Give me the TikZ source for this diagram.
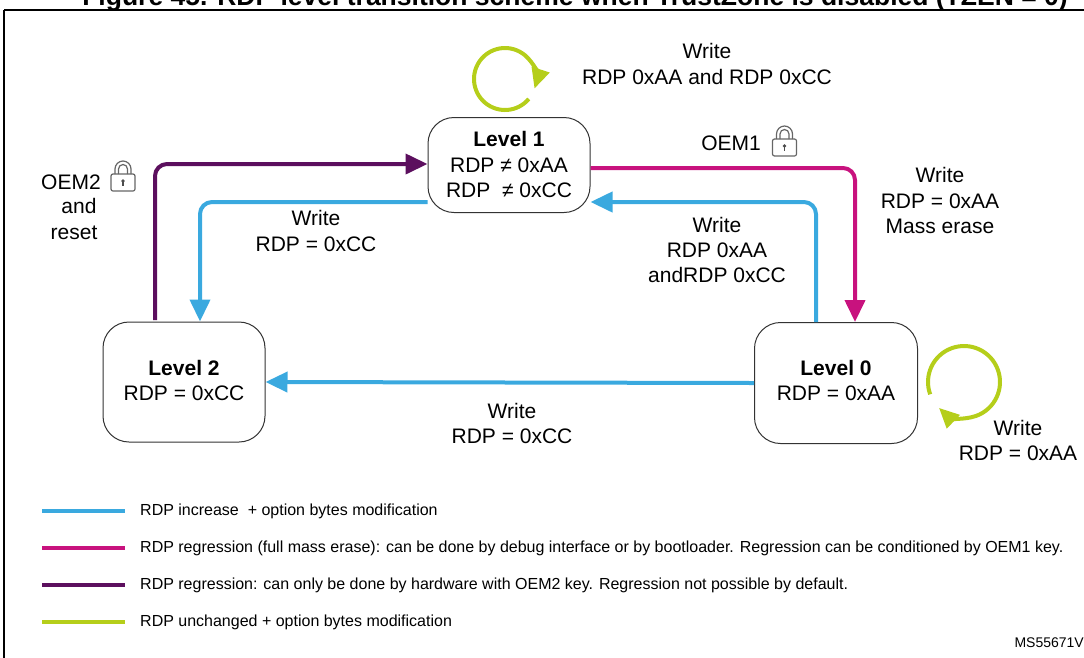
\documentclass[tikz,border=0pt]{standalone}
\usepackage{fontspec}
\setmainfont{Liberation Sans}
\usetikzlibrary{arrows.meta}
\definecolor{cblue}{HTML}{3AA9DF}
\definecolor{cmag}{HTML}{C8127E}
\definecolor{cpur}{HTML}{5C0F5E}
\definecolor{cgrn}{HTML}{B5CE1A}
\begin{document}
\begin{tikzpicture}[x=1pt,y=-1pt,
  state/.style={draw=black!80,line width=1pt,rounded corners=26pt,fill=white,inner sep=0pt},
  lbl/.style={font=\fontsize{21}{25}\selectfont,align=center,inner sep=0pt},
  leg/.style={font=\fontsize{16}{18}\selectfont,anchor=west,inner sep=0pt},
  con/.style={line width=4pt,rounded corners=12pt,-{Triangle[length=22pt,width=20pt]}},
  legline/.style={line width=4pt}]
\useasboundingbox (0,0) rectangle (1084,657);
\clip (0,0) rectangle (1084,657);
\node[font=\bfseries\fontsize{26.5}{30}\selectfont,anchor=base] (title) at (575,5) {Figure 45. RDP level transition scheme when TrustZone is disabled (TZEN = 0)};
\draw[line width=1.2pt] (4,10) -- (1090,10);
\draw[line width=1.6pt] (4,10) -- (4,670);
% states
\node[state,minimum width=162pt,minimum height=95pt] (l1) at (509,165) {};
\node[lbl,anchor=base] (l1t) at (509,146) {\textbf{Level 1}};
\node[lbl,anchor=base] (l1a) at (509,172) {RDP ≠ 0xAA};
\node[lbl,anchor=base] (l1b) at (509,197) {RDP \ ≠ 0xCC};
\node[state,minimum width=162pt,minimum height=120pt] (l2) at (184,382) {};
\node[lbl,anchor=base] (l2t) at (184,375) {\textbf{Level 2}};
\node[lbl,anchor=base] (l2a) at (184,400) {RDP = 0xCC};
\node[state,minimum width=163pt,minimum height=121pt] (l0) at (836,383) {};
\node[lbl,anchor=base] (l0t) at (836,375) {\textbf{Level 0}};
\node[lbl,anchor=base] (l0a) at (836,400) {RDP = 0xAA};
% connectors
\draw[con,draw=cpur,-{Triangle[length=22pt,width=20pt,fill=cpur]}] (155,320) -- (155,164) -- (l1.west |- 0,164);
\draw[con,draw=cblue] (l1.west |- 0,202) -- (200,202) -- (200,0 |- l2.north);
\draw[con,draw=cmag] (l1.east |- 0,168) -- (855,168) -- (855,0 |- l0.north);
\draw[con,draw=cblue] (816,0 |- l0.north) -- (816,202) -- (l1.east |- 0,202);
\draw[con,draw=cblue] (l0.west) -- (l2.east);
% loops
\draw[line width=4pt,draw=cgrn,-{Triangle[length=20pt,width=18pt]}] (505,79) ++(40:31) arc[start angle=40,end angle=378,radius=31];
\draw[line width=4pt,draw=cgrn,-{Triangle[length=20pt,width=18pt]}] (964,382) ++(160:36) arc[start angle=160,end angle=494,radius=36];
% labels
\node[lbl,anchor=base] (t1) at (707,58) {Write};
\node[lbl,anchor=base] (t2) at (707,84) {RDP 0xAA and RDP 0xCC};
\node[lbl,anchor=base] (oem1) at (731,150) {OEM1};
\node[lbl,anchor=base] (m1) at (940,182) {Write};
\node[lbl,anchor=base] (m2) at (940,208) {RDP = 0xAA};
\node[lbl,anchor=base] (m3) at (940,233) {Mass erase};
\node[lbl,anchor=base] (b1) at (717,232) {Write};
\node[lbl,anchor=base] (b2) at (717,257) {RDP 0xAA};
\node[lbl,anchor=base] (b3) at (717,282) {andRDP 0xCC};
\node[lbl,anchor=base] (c1) at (316,225) {Write};
\node[lbl,anchor=base] (c2) at (316,251) {RDP = 0xCC};
\node[lbl,anchor=base] (o1) at (71,189) {OEM2};
\node[lbl,anchor=base] (o2) at (79,213) {and};
\node[lbl,anchor=base] (o3) at (74,239) {reset};
\node[lbl,anchor=base] (d1) at (512,418) {Write};
\node[lbl,anchor=base] (d2) at (512,443) {RDP = 0xCC};
\node[lbl,anchor=base] (e1) at (1018,435) {Write};
\node[lbl,anchor=base] (e2) at (1018,460) {RDP = 0xAA};
% locks (\ly = top of body)
\foreach \lx/\ly/\nm in {784.5/139/lk1,123/174/lk2}{
  \draw[black!60,line width=1.2pt,rounded corners=2pt] (\lx-12,\ly) rectangle (\lx+12,\ly+17);
  \draw[black!60,line width=1.2pt] (\lx-8,\ly) -- (\lx-8,\ly-5) arc[start angle=180,end angle=360,radius=8] -- (\lx+8,\ly);
  \draw[black!60,line width=1.2pt] (\lx-4.5,\ly) -- (\lx-4.5,\ly-5) arc[start angle=180,end angle=360,radius=4.5] -- (\lx+4.5,\ly);
  \fill[black!70] (\lx,\ly+7) circle (1.8pt);
  \draw[black!70,line width=1.1pt] (\lx,\ly+7) -- (\lx,\ly+12);
  \coordinate (\nm) at (\lx,\ly);
}
% legend
\draw[legline,cblue] (42,511) -- (125,511);
\node[leg] (g1) at (140,511) {RDP increase \ + option bytes modification};
\draw[legline,cmag] (42,548) -- (125,548);
\node[leg] (g2) at (140,548) {RDP regression (full mass erase): can be done by debug interface or by bootloader. Regression can be conditioned by OEM1 key.};
\draw[legline,cpur] (42,585) -- (125,585);
\node[leg] (g3) at (140,585) {RDP regression: can only be done by hardware with OEM2 key. Regression not possible by default.};
\draw[legline,cgrn] (42,622) -- (125,622);
\node[leg] (g4) at (140,622) {RDP unchanged + option bytes modification};
\node[font=\fontsize{14}{16}\selectfont,anchor=base east,inner sep=0pt] (ms) at (1084,647) {MS55671V};
\end{tikzpicture}
\end{document}
